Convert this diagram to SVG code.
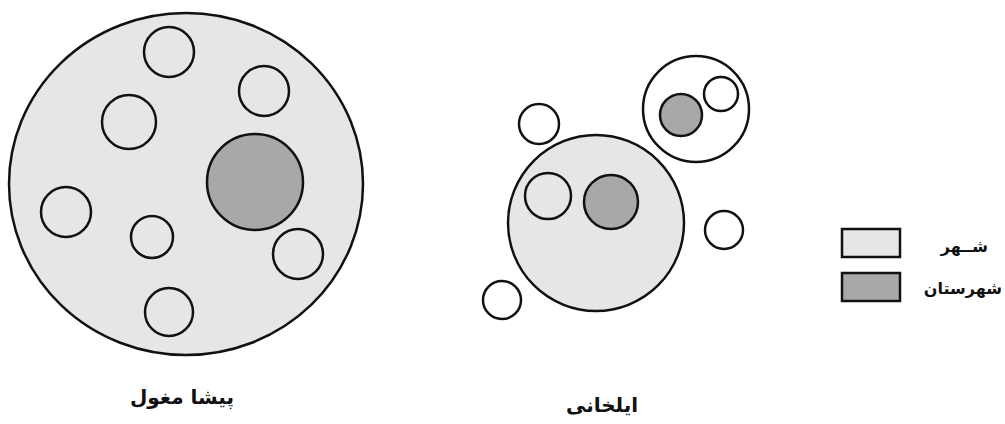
<svg xmlns="http://www.w3.org/2000/svg" width="1005" height="424" viewBox="0 0 1005 424">
<style>
.light{fill:#e6e6e6;stroke:#111;stroke-width:2.5}
.dark{fill:#a8a8a8;stroke:#111;stroke-width:2.5}
.white{fill:#fff;stroke:#111;stroke-width:2.5}
.hollow{fill:none;stroke:#111;stroke-width:2.5}
.lbl{font-family:"DejaVu Sans","Noto Sans",sans-serif;font-weight:bold;fill:#111;text-anchor:middle}
.leg{font-family:"DejaVu Sans","Noto Sans",sans-serif;font-weight:bold;fill:#111;text-anchor:end}
</style>
<rect width="1005" height="424" fill="#fff"/>
<g id="pre-mongol">
<ellipse cx="186" cy="184" rx="177" ry="171" class="light" stroke-width="4"/>
<circle cx="169" cy="52" r="25" class="hollow"/>
<circle cx="264" cy="91" r="25" class="hollow"/>
<circle cx="129" cy="122" r="27" class="hollow"/>
<circle cx="255" cy="182" r="48" class="dark"/>
<circle cx="66" cy="212" r="25" class="hollow"/>
<circle cx="152" cy="237" r="21" class="hollow"/>
<circle cx="298" cy="254" r="25" class="hollow"/>
<circle cx="169" cy="312" r="24" class="hollow"/>
<text x="182" y="404" class="lbl" font-size="20">پیشا مغول</text>
</g>
<g id="ilkhanid">
<circle cx="596" cy="223" r="88" class="light"/>
<circle cx="548" cy="196" r="23" class="hollow"/>
<circle cx="611" cy="202" r="27" class="dark"/>
<circle cx="539" cy="124" r="20" class="white"/>
<circle cx="696" cy="109" r="53" class="white"/>
<circle cx="681" cy="115" r="21" class="dark"/>
<circle cx="721" cy="94" r="17" class="white"/>
<circle cx="724" cy="230" r="19" class="white"/>
<circle cx="502" cy="300" r="19" class="white"/>
<text x="602" y="412" class="lbl" font-size="20">ایلخانی</text>
</g>
<g id="legend">
<rect x="842" y="229" width="58" height="28" class="light"/>
<rect x="842" y="273" width="58" height="28" class="dark"/>
<text x="988" y="252" class="leg" font-size="16">شــهر</text>
<text x="1002" y="294" class="leg" font-size="16">شهرستان</text>
</g>
</svg>
